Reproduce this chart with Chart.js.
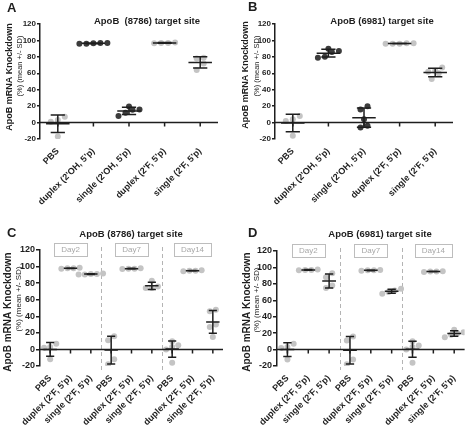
<!DOCTYPE html>
<html>
<head>
<meta charset="utf-8">
<script src="https://cdn.jsdelivr.net/npm/chart.js@4.4.1/dist/chart.umd.min.js"></script>
<style>
  body { margin: 0; background: #fff; }
  canvas { position: absolute; }
</style>
</head>
<body>
<canvas id="panelA" width="235" height="215" style="left:0;top:0"></canvas>
<canvas id="panelB" width="234" height="215" style="left:235px;top:0"></canvas>
<canvas id="panelC" width="235" height="217" style="left:0;top:215px"></canvas>
<canvas id="panelD" width="234" height="217" style="left:235px;top:215px"></canvas>
<script>
const yMin = -20, yMax = 120, yStep = 20;

const groupsAB = ['PBS', "duplex (2'OH, 5'p)", "single (2'OH, 5'p)", "duplex (2'F, 5'p)", "single (2'F, 5'p)"];
const groupsCD = ['PBS', "duplex (2'F, 5'p)", "single (2'F, 5'p)",
                  'PBS', "duplex (2'F, 5'p)", "single (2'F, 5'p)",
                  'PBS', "duplex (2'F, 5'p)", "single (2'F, 5'p)"];
const days = ['Day2', 'Day7', 'Day14'];

// knockdown (%) per animal, one inner array per group
const knockdownA = [
  [1, 7, -17, 3],
  [96, 97, 96, 97, 96.5],
  [15.5, 19.5, 8, 12, 16],
  [97, 97.5, 96.5, 97],
  [78, 79, 72, 64]
];
const knockdownB = [
  [2, 8, -16, 4],
  [87, 90, 79, 80, 86],
  [20, 16, 4, -6, -4],
  [96, 96.5, 96, 96.5, 96],
  [67, 62, 60, 53, 63]
];
const knockdownC = [
  [7, -12, 3, 2], [98, 98.5, 97.5, 98], [91, 90.5, 91.5, 90.5, 91],
  [11, 16, -18, -12], [97.5, 97, 98, 97.5], [83, 76, 74, 74],
  [3, 5, -16, 10, 0], [95, 94.5, 95.5, 95], [46, 48, 30, 15, 27]
];
const knockdownD = [
  [7, -12, 3, 2], [97, 97.5, 96.5, 97], [93, 75, 78, 88],
  [11, 16, -18, -12], [96.5, 96, 97, 96.5], [74, 70, 68, 72],
  [3, 5, -16, 10, 0], [95, 94.5, 95.5, 95], [24, 20, 15, 18, 21]
];

const FONT = "'Liberation Sans', Arial, sans-serif";
const INK = '#1e1e1e';
Chart.defaults.font.family = FONT;

const mean = a => a.reduce((s, v) => s + v, 0) / a.length;
const sd = a => { const m = mean(a); return Math.sqrt(a.reduce((s, v) => s + (v - m) ** 2, 0) / (a.length - 1)); };

const prismPlugin = {
  id: 'prism',
  beforeDatasetsDraw(chart, args, o) {
    if (!o.days) return;
    const { ctx, chartArea: a, scales: { x } } = chart;
    ctx.save();
    ctx.strokeStyle = '#b4b4b4';
    ctx.lineWidth = 1;
    ctx.setLineDash([4, 3]);
    for (let d = 1; d < o.days.length; d++) {
      const px = Math.round(x.getPixelForValue(d * 3 - 0.5)) + 0.5;
      ctx.beginPath();
      ctx.moveTo(px, a.top - 3);
      ctx.lineTo(px, a.bottom + 4);
      ctx.stroke();
    }
    ctx.restore();
  },
  afterDatasetsDraw(chart, args, o) {
    const { ctx, chartArea: a, scales: { x, y } } = chart;
    const y0 = y.getPixelForValue(0);
    const unit = x.getPixelForValue(1) - x.getPixelForValue(0);
    ctx.save();
    ctx.strokeStyle = INK;
    ctx.lineWidth = 1.5;
    // x axis crosses at 0
    ctx.beginPath();
    ctx.moveTo(a.left, y0);
    ctx.lineTo(a.right, y0);
    o.values.forEach((v, i) => {
      const px = x.getPixelForValue(i);
      ctx.moveTo(px, y0);
      ctx.lineTo(px, y0 + 4);
    });
    ctx.stroke();
    // mean +/- SD
    o.values.forEach((vals, i) => {
      const m = mean(vals), s = sd(vals);
      const px = x.getPixelForValue(i);
      const top = y.getPixelForValue(m + s), bot = y.getPixelForValue(m - s), mid = y.getPixelForValue(m);
      const cap = 0.2 * unit, bar = 0.33 * unit;
      ctx.beginPath();
      ctx.moveTo(px, top); ctx.lineTo(px, bot);
      ctx.moveTo(px - cap, top); ctx.lineTo(px + cap, top);
      ctx.moveTo(px - cap, bot); ctx.lineTo(px + cap, bot);
      ctx.moveTo(px - bar, mid); ctx.lineTo(px + bar, mid);
      ctx.stroke();
    });
    ctx.restore();
  },
  afterDraw(chart, args, o) {
    const { ctx, chartArea: a, scales: { x } } = chart;
    ctx.save();
    ctx.fillStyle = INK;
    ctx.textBaseline = 'alphabetic';
    ctx.font = 'bold 13px ' + FONT;
    ctx.fillText(o.letter, o.letterPos[0], o.letterPos[1]);
    ctx.textAlign = 'center';
    ctx.textBaseline = 'middle';
    ctx.font = 'bold 9.5px ' + FONT;
    ctx.fillText(o.title, o.titlePos[0], o.titlePos[1]);
    // y axis titles
    ctx.save();
    ctx.translate(o.yTitle[0], o.yTitle[1]);
    ctx.rotate(-Math.PI / 2);
    ctx.font = 'bold ' + o.yTitle[2] + 'px ' + FONT;
    ctx.fillText('ApoB mRNA Knockdown', 0, 0);
    ctx.restore();
    ctx.save();
    ctx.translate(o.ySub[0], o.ySub[1]);
    ctx.rotate(-Math.PI / 2);
    ctx.font = o.ySub[2] + 'px ' + FONT;
    ctx.fillText('(%) (mean +/- SD)', 0, 0);
    ctx.restore();
    // day boxes
    if (o.days) {
      ctx.font = '8px ' + FONT;
      o.days.forEach((d, k) => {
        const cx = x.getPixelForValue(k * 3 + 1);
        const w = ctx.measureText(d).width + 14, h = 13, t = a.top - 7;
        ctx.fillStyle = '#fff';
        ctx.fillRect(cx - w / 2, t, w, h);
        ctx.strokeStyle = '#bdbdbd';
        ctx.lineWidth = 1;
        ctx.strokeRect(Math.round(cx - w / 2) + 0.5, t + 0.5, Math.round(w), h);
        ctx.fillStyle = '#a8a8a8';
        ctx.fillText(d, cx, t + h / 2 + 0.5);
      });
    }
    ctx.restore();
  }
};

// spread dots of similar value into centred rows, like a column scatter plot
function spreadDots(chart) {
  const xs = chart.scales.x, ys = chart.scales.y;
  const unit = xs.getPixelForValue(1) - xs.getPixelForValue(0);
  const step = Math.min(7, unit * 0.3);
  chart.data.datasets.forEach(ds => {
    const order = ds.data.map((p, k) => k).sort((p, q) => ds.data[p].y - ds.data[q].y);
    const rows = [];
    order.forEach(k => {
      const py = ys.getPixelForValue(ds.data[k].y);
      const row = rows[rows.length - 1];
      if (row && Math.abs(row.py - py) < step) row.items.push(k);
      else rows.push({ py, items: [k] });
    });
    rows.forEach(row => {
      row.items.forEach((k, j) => {
        ds.data[k].x = ds.group + (j - (row.items.length - 1) / 2) * step / unit;
      });
    });
  });
  chart.update('none');
}

function makePanel(cfg) {
  const dark = '#3c3c3c', light = '#c4c4c4';
  const datasets = cfg.values.map((vals, i) => {
    const col = cfg.groups[i].includes("2'OH") ? dark : light;
    return {
      group: i,
      data: vals.map(v => ({ x: i, y: v })),
      backgroundColor: col,
      borderColor: col,
      borderWidth: 0,
      pointRadius: 3,
      pointHoverRadius: 3
    };
  });

  const options = {
    responsive: false,
    animation: false,
    layout: { padding: { left: 0, top: cfg.top, right: cfg.right, bottom: 0 } },
    plugins: {
      legend: { display: false },
      tooltip: { enabled: false },
      prism: {
        letter: cfg.letter, letterPos: cfg.letterPos,
        title: cfg.title, titlePos: cfg.titlePos,
        yTitle: cfg.yTitle, ySub: cfg.ySub,
        values: cfg.values, days: cfg.days
      }
    },
    scales: {
      x: {
        type: 'linear',
        min: -0.5,
        max: cfg.groups.length - 0.5,
        afterBuildTicks: s => { s.ticks = cfg.groups.map((g, i) => ({ value: i })); },
        afterFit: s => { s.height = cfg.xHeight; },
        grid: { display: false, drawTicks: false },
        border: { display: false },
        ticks: {
          autoSkip: false,
          minRotation: 45,
          maxRotation: 45,
          padding: 7,
          color: INK,
          font: { size: cfg.labelSize, weight: 'bold' },
          callback: v => cfg.groups[v] ?? ''
        }
      },
      y: {
        min: yMin,
        max: yMax,
        afterFit: s => { s.width = cfg.axisLeft; },
        grid: { drawOnChartArea: false, drawTicks: true, tickLength: cfg.tickLen, color: INK, lineWidth: 1.5 },
        border: { display: true, color: INK, width: 1.5 },
        ticks: {
          stepSize: yStep,
          padding: 1,
          color: INK,
          font: { size: cfg.tickSize, weight: 'bold' }
        }
      }
    }
  };

  const chart = new Chart(document.getElementById(cfg.id), {
    type: 'scatter',
    data: { datasets },
    options,
    plugins: [prismPlugin]
  });
  spreadDots(chart);
  return chart;
}

makePanel({
  id: 'panelA', letter: 'A', letterPos: [7, 12], title: 'ApoB  (8786) target site', titlePos: [147, 21],
  groups: groupsAB, values: knockdownA,
  axisLeft: 40, top: 24, right: 17, xHeight: 76, tickSize: 8, tickLen: 3, labelSize: 9,
  yTitle: [9.5, 77, 9], ySub: [20, 66, 7.5]
});
makePanel({
  id: 'panelB', letter: 'B', letterPos: [13, 11], title: 'ApoB (6981) target site', titlePos: [147, 21],
  groups: groupsAB, values: knockdownB,
  axisLeft: 40, top: 24, right: 16, xHeight: 76, tickSize: 8, tickLen: 3, labelSize: 9,
  yTitle: [11, 75, 9], ySub: [21.5, 66, 7.5]
});
makePanel({
  id: 'panelC', letter: 'C', letterPos: [7, 22], title: 'ApoB (8786) target site', titlePos: [131, 19],
  groups: groupsCD, values: knockdownC, days,
  axisLeft: 40, top: 35, right: 12, xHeight: 66, tickSize: 9, tickLen: 4, labelSize: 9,
  yTitle: [8.5, 97, 10], ySub: [19, 84, 8]
});
makePanel({
  id: 'panelD', letter: 'D', letterPos: [13, 22], title: 'ApoB (6981) target site', titlePos: [145, 19],
  groups: groupsCD, values: knockdownD, days,
  axisLeft: 42, top: 36, right: 2, xHeight: 66, tickSize: 9, tickLen: 4, labelSize: 9,
  yTitle: [12, 97, 10], ySub: [22, 85, 8]
});
</script>
</body>
</html>
